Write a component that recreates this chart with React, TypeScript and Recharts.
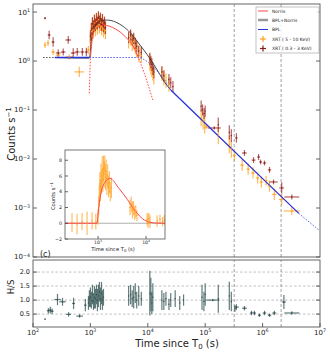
import React from "react";
import { ComposedChart, Line, Scatter, ErrorBar, XAxis, YAxis, ReferenceLine } from "recharts";

const FONT = "'DejaVu Sans', sans-serif";
const INK = "#222";

const timeDecades = [1e2, 1e3, 1e4, 1e5, 1e6, 1e7];
const countDecades = [1e-4, 1e-3, 1e-2, 1e-1, 1, 10];
const ratioTicks = [0.5, 1.0, 1.5, 2.0];
const insetCountTicks = [-2, 0, 2, 4, 6, 8];
const insetDecades = [1e2, 1e3, 1e4];
const breakTimes = [3.2e5, 2.1e6];

// XRT 0.3 - 3 keV : [t, counts, x factor, y factor]
const softPts = [
  [162, 7.5, 1.03, 1.05], [191, 3.4, 1.06, 1.22], [224, 2.44, 1.06, 1.25], [275, 1.46, 1.1, 1.18],
  [336, 1.53, 1.1, 1.18], [411, 2.69, 1.12, 1.2], [502, 1.46, 1.1, 1.25], [590, 1.53, 1.1, 1.2],
  [724, 1.53, 1.08, 1.2], [851, 1.53, 1.06, 1.22],
  [1000, 3.2, 1, 1.35], [1040, 4.5, 1, 1.35], [1085, 5.8, 1, 1.35], [1130, 5.0, 1, 1.35],
  [1175, 6.5, 1, 1.35], [1225, 5.5, 1, 1.35], [1274, 7.0, 1, 1.35], [1325, 6.0, 1, 1.35],
  [1380, 7.6, 1, 1.35], [1435, 6.3, 1, 1.35], [1496, 7.2, 1, 1.35], [1560, 5.6, 1, 1.35],
  [1622, 6.8, 1, 1.35], [1690, 5.2, 1, 1.35], [1760, 6.0, 1, 1.35], [1830, 4.8, 1, 1.35],
  [4640, 3.0, 1, 1.3], [5020, 3.4, 1, 1.3], [5350, 2.7, 1, 1.3], [5680, 2.9, 1, 1.3],
  [6050, 2.3, 1, 1.3], [6410, 2.0, 1, 1.3], [6950, 1.6, 1, 1.3], [7700, 1.5, 1, 1.3],
  [10840, 1.1, 1, 1.35], [11300, 0.95, 1, 1.35], [11750, 0.85, 1, 1.35], [12240, 0.7, 1, 1.35], [12740, 0.6, 1, 1.35],
  [17600, 0.6, 1, 1.3], [19050, 0.5, 1, 1.3], [23350, 0.42, 1, 1.3], [25100, 0.36, 1, 1.3], [27400, 0.3, 1, 1.3],
  [85000, 0.12, 1, 1.3], [90000, 0.1, 1, 1.3], [95700, 0.085, 1, 1.3], [100000, 0.095, 1, 1.3],
  [144000, 0.043, 1.3, 1.08], [169000, 0.05, 1, 1.4],
  [263000, 0.035, 1, 1.4], [285000, 0.03, 1, 1.35], [350000, 0.027, 1.05, 1.25],
  [483000, 0.0133, 1.1, 1.15], [695000, 0.0095, 1.08, 1.15], [851000, 0.011, 1.06, 1.15],
  [922000, 0.0087, 1.06, 1.12], [1.08e6, 0.0083, 1.07, 1.12], [1.32e6, 0.006, 1.07, 1.15],
  [1.55e6, 0.0034, 1.18, 1.12], [2.15e6, 0.00257, 1.1, 1.3], [3.23e6, 0.00168, 1.35, 1.12],
];

// XRT 5 - 10 keV
const hardPts = [
  [162, 2.12, 1.05, 1.15], [183, 2.33, 1.05, 1.15], [224, 1.53, 1.08, 1.15], [275, 1.32, 1.1, 1.15],
  [428, 1.21, 1.15, 1.12], [641, 0.6, 1.22, 1.27], [922, 1.68, 1.06, 1.2],
  [1000, 2.5, 1, 1.5], [1040, 4.0, 1, 1.5], [1085, 5.2, 1, 1.5], [1130, 4.3, 1, 1.5],
  [1175, 6.0, 1, 1.5], [1225, 4.8, 1, 1.5], [1274, 6.5, 1, 1.5], [1325, 5.2, 1, 1.5],
  [1380, 7.0, 1, 1.5], [1435, 5.5, 1, 1.5], [1496, 6.2, 1, 1.5], [1560, 5.0, 1, 1.5],
  [1622, 6.0, 1, 1.5], [1690, 4.5, 1, 1.5], [1760, 5.2, 1, 1.5], [1830, 4.2, 1, 1.5],
  [4640, 2.6, 1, 1.45], [5020, 3.0, 1, 1.45], [5350, 2.3, 1, 1.45], [5680, 2.5, 1, 1.45],
  [6050, 2.0, 1, 1.45], [6410, 1.7, 1, 1.45], [6950, 1.4, 1, 1.45], [7700, 1.3, 1, 1.45],
  [10840, 0.95, 1, 1.5], [11300, 0.8, 1, 1.5], [11750, 0.7, 1, 1.5], [12240, 0.6, 1, 1.5], [12740, 0.5, 1, 1.5],
  [17600, 0.55, 1, 1.4], [19050, 0.45, 1, 1.4], [20700, 0.4, 1, 1.4], [23350, 0.33, 1, 1.4],
  [85000, 0.07, 1, 1.5], [92000, 0.06, 1, 1.5], [98000, 0.05, 1, 1.5],
  [104000, 0.045, 1.08, 1.1], [169000, 0.03, 1, 1.5],
  [263000, 0.02, 1, 1.5], [285000, 0.016, 1, 1.5],
  [322000, 0.0118, 1.06, 1.3], [440000, 0.0075, 1.08, 1.3], [560000, 0.0062, 1.07, 1.3],
  [680000, 0.0052, 1.07, 1.3], [820000, 0.0041, 1.07, 1.3], [950000, 0.0034, 1.07, 1.3],
  [1.15e6, 0.0036, 1.06, 1.25], [1.32e6, 0.0028, 1.08, 1.3], [1.6e6, 0.0019, 1.1, 1.3],
  [2.15e6, 0.0015, 1.12, 1.3], [3.23e6, 0.00087, 1.38, 1.2],
];

// hardness ratio: [t, H/S, x factor, abs err]
const ratioPts = [
  [162, 0.32, 1, 0.02], [185, 0.62, 1.06, 0.1], [200, 0.64, 1.06, 0.12], [215, 0.6, 1.06, 0.1],
  [267, 1.02, 1.14, 0.2], [327, 0.94, 1.14, 0.14], [417, 0.49, 1.1, 0.08], [509, 0.88, 1.06, 0.2],
  [648, 0.43, 1.14, 0.06], [817, 0.82, 1.05, 0.22],
  [925, 0.9, 1, 0.25], [960, 1.05, 1, 0.3], [1000, 1.1, 1, 0.35], [1040, 1.0, 1, 0.3],
  [1085, 1.2, 1, 0.35], [1130, 0.95, 1, 0.3], [1175, 1.1, 1, 0.4], [1225, 1.05, 1, 0.35],
  [1274, 1.2, 1, 0.35], [1325, 1.0, 1, 0.4], [1380, 1.15, 1, 0.4], [1435, 1.3, 1, 0.35],
  [1496, 1.05, 1, 0.4], [1560, 1.25, 1, 0.4], [1622, 1.0, 1, 0.35], [1690, 1.1, 1, 0.3],
  [4640, 1.15, 1, 0.35], [5020, 1.2, 1, 0.35], [5350, 1.05, 1, 0.3], [5680, 1.1, 1, 0.4],
  [6050, 1.25, 1, 0.35], [6410, 1.0, 1, 0.3], [6950, 1.15, 1, 0.35], [7700, 1.05, 1, 0.25],
  [10840, 1.25, 1, 0.8], [11300, 1.2, 1, 0.6], [11750, 0.9, 1, 0.4], [12240, 1.1, 1, 0.5],
  [17600, 1.0, 1, 0.35], [19050, 0.95, 1, 0.3], [20700, 1.05, 1, 0.25], [23350, 0.85, 1, 0.2],
  [25100, 1.0, 1, 0.25], [30000, 1.05, 1, 0.3], [36000, 0.9, 1, 0.25], [42000, 1.0, 1, 0.2],
  [88000, 1.1, 1, 0.45], [95000, 0.95, 1, 0.35], [100000, 1.2, 1, 0.4],
  [135000, 1.0, 1.3, 0.04], [169000, 1.05, 1, 0.5],
  [263000, 1.15, 1, 0.5], [285000, 0.95, 1, 0.35], [330000, 0.7, 1, 0.12], [350000, 0.75, 1.1, 0.1],
  [483000, 0.71, 1.1, 0.08], [640000, 0.54, 1.06, 0.08], [720000, 0.54, 1.06, 0.08],
  [880000, 0.46, 1.06, 0.06], [1.08e6, 0.54, 1.07, 0.08], [1.32e6, 0.46, 1.07, 0.06],
  [1.6e6, 0.54, 1.08, 0.08], [2.35e6, 0.93, 1.08, 0.25], [3.23e6, 0.54, 1.35, 0.06],
];

// inset, linear counts (5 - 10 keV): [t, counts, abs err]
const insetPts = [
  [287, 0.1, 1.2], [365, -0.1, 1.3], [464, 0.2, 1.1], [590, 0.0, 1.5], [750, 0.3, 1.1], [900, 0.2, 1.0],
  [1000, 0.8, 1.0], [1030, 2.2, 1.2], [1060, 3.5, 1.4], [1090, 5.0, 1.5], [1120, 4.2, 1.4],
  [1150, 6.0, 1.6], [1185, 5.2, 1.5], [1220, 6.8, 1.7], [1260, 5.5, 1.5], [1300, 7.0, 1.6],
  [1340, 6.2, 1.7], [1380, 7.5, 1.1], [1430, 5.8, 1.6], [1480, 6.6, 1.5], [1530, 5.0, 1.4],
  [1590, 6.0, 1.5], [1650, 4.6, 1.3], [1720, 5.2, 1.4], [1800, 4.0, 1.2], [1900, 4.5, 1.3],
  [4640, 2.0, 1.0], [4900, 2.4, 1.0], [5200, 1.7, 1.1], [5500, 1.9, 0.9], [5800, 1.3, 0.9],
  [6100, 1.5, 0.8], [6450, 1.0, 0.7],
  [10500, 0.5, 0.8], [11000, 0.3, 0.9], [11500, 0.6, 0.7], [12100, 0.2, 0.8],
  [17000, 0.3, 0.7], [19500, 0.5, 0.6], [22000, 0.2, 0.6], [24000, 0.4, 0.6],
];

// model curves: [t, counts]
const norrisRise = [[955, 0.22], [1000, 1.15]];
const norrisPeak = [
  [1000, 1.15], [1085, 2.95], [1225, 4.5], [1430, 5.2], [1690, 5.4], [2750, 4.5],
  [4100, 3.1], [5680, 1.93], [6680, 1.26],
];
const norrisTail = [[6680, 1.26], [8510, 0.6], [10400, 0.295], [12240, 0.16]];
const sumEarly = [[150, 1.18], [240, 1.18]];
const sumMain = [
  [240, 1.18], [959, 1.15], [1042, 2.69], [1175, 4.71], [1496, 6.55], [1905, 6.87], [2754, 6.25],
  [3640, 5.18], [5020, 3.73], [6680, 2.44], [8510, 1.68], [11300, 1.05], [14960, 0.625],
  [19050, 0.39], [25100, 0.256],
];
const bplFlat = [[240, 1.18], [960, 1.18]];
const bplBend = [[960, 1.18], [6680, 1.18], [10000, 0.955], [14960, 0.597], [20700, 0.372], [25100, 0.256]];
const bplDecay = [[25100, 0.256], [1e5, 0.0537], [1e6, 0.00398], [4.27e6, 0.000776]];
const bplTail = [[4.27e6, 0.000776], [9.55e6, 0.000355]];
const norrisLinear = [
  [205, 0], [955, 0], [1000, 1.2], [1085, 3.0], [1225, 4.5], [1430, 5.3], [1750, 5.7], [2750, 4.4],
  [4100, 3.0], [5680, 1.7], [6680, 1.2], [8510, 0.55], [10400, 0.25], [12240, 0.12], [16000, 0.03], [24800, 0],
];

const toLine = (a: number[][]) => a.map(([t, c]) => ({ t, c }));
const toLogPts = (a: number[][]) =>
  a.map(([t, c, kx, ky]) => ({ t, c, ex: [t - t / kx, t * kx - t], ey: [c - c / ky, c * ky - c] }));
const toLinPts = (a: number[][]) =>
  a.map(([t, c, kx, e]) => ({ t, c, ex: [t - t / kx, t * kx - t], ey: [e, e] }));

const soft = toLogPts(softPts);
const hard = toLogPts(hardPts);
const ratio = toLinPts(ratioPts);
const inset = insetPts.map(([t, c, e]) => ({ t, c, ey: [e, e] }));

function minorsOf(decades: number[], lo: number, hi: number) {
  const out: number[] = [];
  decades.forEach((d) => {
    for (let m = 2; m < 10; m++) {
      const v = d * m;
      if (v >= lo && v <= hi) out.push(v);
    }
  });
  return out;
}

const expOf = (v: number) => Math.round(Math.log10(v));

function Pow({ x, y, e, fs, anchor }: any) {
  const s = e < 0 ? "\u2212" + -e : String(e);
  return (
    <text x={x} y={y} fontSize={fs} fontFamily={FONT} fill={INK} textAnchor={anchor}>
      10<tspan dy={-fs * 0.42} fontSize={fs * 0.68}>{s}</tspan>
    </text>
  );
}

// x ticks: inward marks at bottom and top edge, label for majors
function TimeTick(props: any) {
  const { x, y, payload, top, labels, fs, len = 4, dy = 1.5 } = props;
  return (
    <g>
      <line x1={x} x2={x} y1={y} y2={y - len} stroke={INK} strokeWidth={0.7} />
      <line x1={x} x2={x} y1={top} y2={top + len} stroke={INK} strokeWidth={0.7} />
      {labels ? <Pow x={x} y={y + fs + dy} e={expOf(payload.value)} fs={fs} anchor="middle" /> : null}
    </g>
  );
}

// y ticks: inward marks at left and right edge
function CountTick(props: any) {
  const { x, y, payload, right, fs, labels, len = 4 } = props;
  return (
    <g>
      <line x1={x} x2={x + len} y1={y} y2={y} stroke={INK} strokeWidth={0.7} />
      <line x1={right} x2={right - len} y1={y} y2={y} stroke={INK} strokeWidth={0.7} />
      {labels ? <Pow x={x - 3} y={y + fs * 0.35} e={expOf(payload.value)} fs={fs} anchor="end" /> : null}
    </g>
  );
}

function LinTick(props: any) {
  const { x, y, payload, right, fs, fixed, size = 4 } = props;
  const v = payload.value;
  const txt = fixed ? v.toFixed(1) : v < 0 ? "\u2212" + -v : String(v);
  return (
    <g>
      <line x1={x} x2={x + size} y1={y} y2={y} stroke={INK} strokeWidth={0.7} />
      <line x1={right} x2={right - size} y1={y} y2={y} stroke={INK} strokeWidth={0.7} />
      <text x={x - 3} y={y + fs * 0.35} fontSize={fs} fontFamily={FONT} fill={INK} textAnchor="end">
        {txt}
      </text>
    </g>
  );
}

const dot = (color: string) => (p: any) => <circle cx={p.cx} cy={p.cy} r={0.7} fill={color} />;

const SOFT = "#8b1a1a";
const HARD = "#ffa01e";
const RATIO = "#2f4f4f";
const RED = "#ff4646";
const BLUE = "#2a35d8";

const axisBase = { type: "number" as const, allowDataOverflow: true, interval: 0, tickSize: 0, tickMargin: 0, axisLine: false, tickLine: false };

export default function App() {
  const timeMinors = minorsOf(timeDecades, 100, 1e7);
  const countMinors = minorsOf(countDecades, 1e-4, 14.6);
  const insetTimeMajors = [1e3, 1e4];
  const insetTimeMinors = minorsOf(insetDecades, 205, 24800);

  return (
    <div style={{ position: "absolute", left: 0, top: 0, width: 330, height: 352, background: "#fff" }}>
      {/* main light curve */}
      <div style={{ position: "absolute", left: 0, top: 0 }}>
        <ComposedChart width={330} height={262} margin={{ top: 4, right: 10, bottom: 5, left: 0 }}>
          <XAxis {...axisBase} dataKey="t" scale="log" domain={[100, 1e7]} ticks={timeDecades} height={0}
            tick={<TimeTick top={4} labels={false} fs={7} />} />
          <XAxis {...axisBase} xAxisId="minor" dataKey="t" scale="log" domain={[100, 1e7]} ticks={timeMinors} height={0}
            tick={<TimeTick top={4} labels={false} fs={7} len={2} />} />
          <YAxis {...axisBase} dataKey="c" scale="log" domain={[1e-4, 14.6]} ticks={countDecades} width={33}
            tick={<CountTick right={320} fs={7} labels />} />
          <YAxis {...axisBase} yAxisId="minor" dataKey="c" scale="log" domain={[1e-4, 14.6]} ticks={countMinors} width={0}
            tick={<CountTick right={320} fs={7} labels={false} len={2} />} />
          {breakTimes.map((b) => (
            <ReferenceLine key={b} x={b} stroke="#777" strokeDasharray="3 2" strokeWidth={0.7} />
          ))}
          <Scatter data={hard} fill={HARD} shape={dot(HARD)} isAnimationActive={false}>
            <ErrorBar dataKey="ey" direction="y" width={0} stroke="rgba(255,160,30,0.75)" strokeWidth={1.2} isAnimationActive={false} />
            <ErrorBar dataKey="ex" direction="x" width={0} stroke="rgba(255,160,30,0.75)" strokeWidth={1.2} isAnimationActive={false} />
          </Scatter>
          <Scatter data={soft} fill={SOFT} shape={dot(SOFT)} isAnimationActive={false}>
            <ErrorBar dataKey="ey" direction="y" width={0} stroke="rgba(150,30,25,0.7)" strokeWidth={1.2} isAnimationActive={false} />
            <ErrorBar dataKey="ex" direction="x" width={0} stroke="rgba(150,30,25,0.7)" strokeWidth={1.2} isAnimationActive={false} />
          </Scatter>
          <Line data={toLine(sumEarly)} dataKey="c" type="linear" stroke="#555" strokeWidth={1} strokeDasharray="1.5 1.5" dot={false} isAnimationActive={false} />
          <Line data={toLine(sumMain)} dataKey="c" type="monotone" stroke="#333" strokeWidth={0.9} dot={false} isAnimationActive={false} />
          <Line data={toLine(norrisRise)} dataKey="c" type="linear" stroke={RED} strokeWidth={1} strokeDasharray="1.5 1.5" dot={false} isAnimationActive={false} />
          <Line data={toLine(norrisPeak)} dataKey="c" type="monotone" stroke={RED} strokeWidth={1} dot={false} isAnimationActive={false} />
          <Line data={toLine(norrisTail)} dataKey="c" type="monotone" stroke={RED} strokeWidth={1} strokeDasharray="1.5 1.5" dot={false} isAnimationActive={false} />
          <Line data={toLine(bplFlat)} dataKey="c" type="linear" stroke={BLUE} strokeWidth={1.4} dot={false} isAnimationActive={false} />
          <Line data={toLine(bplBend)} dataKey="c" type="monotone" stroke="#5565ee" strokeWidth={1} strokeDasharray="1.5 1.5" dot={false} isAnimationActive={false} />
          <Line data={toLine(bplDecay)} dataKey="c" type="linear" stroke={BLUE} strokeWidth={1.3} dot={false} isAnimationActive={false} />
          <Line data={toLine(bplTail)} dataKey="c" type="linear" stroke="#5565ee" strokeWidth={1} strokeDasharray="1.5 1.5" dot={false} isAnimationActive={false} />
        </ComposedChart>
      </div>

      {/* inset: linear 5-10 keV counts */}
      <div style={{ position: "absolute", left: 45, top: 146 }}>
        <ComposedChart width={125} height={104} margin={{ top: 4, right: 5, bottom: 0, left: 0 }}>
          <XAxis {...axisBase} dataKey="t" scale="log" domain={[205, 24800]} ticks={insetTimeMajors} height={11}
            tick={<TimeTick top={150} labels fs={4.6} len={3} dy={0.2} />} />
          <XAxis {...axisBase} xAxisId="minor" dataKey="t" scale="log" domain={[205, 24800]} ticks={insetTimeMinors} height={0}
            tick={<TimeTick top={150} labels={false} fs={4.6} len={1.5} />} />
          <YAxis {...axisBase} dataKey="c" domain={[-2, 9.3]} ticks={insetCountTicks} width={20}
            tick={<LinTick right={165} fs={4.8} size={3} />} />
          <ReferenceLine y={0} stroke="#999" strokeWidth={0.8} />
          <Scatter data={inset} fill={HARD} shape={dot(HARD)} isAnimationActive={false}>
            <ErrorBar dataKey="ey" direction="y" width={0} stroke="rgba(255,160,30,0.75)" strokeWidth={1.1} isAnimationActive={false} />
          </Scatter>
          <Line data={toLine(norrisLinear)} dataKey="c" type="monotone" stroke={RED} strokeWidth={1} dot={false} isAnimationActive={false} />
        </ComposedChart>
      </div>

      {/* hardness ratio panel */}
      <div style={{ position: "absolute", left: 0, top: 255 }}>
        <ComposedChart width={330} height={97} margin={{ top: 5, right: 10, bottom: 0, left: 0 }}>
          <XAxis {...axisBase} dataKey="t" scale="log" domain={[100, 1e7]} ticks={timeDecades} height={25}
            tick={<TimeTick top={260} labels fs={7} dy={1} />} />
          <XAxis {...axisBase} xAxisId="minor" dataKey="t" scale="log" domain={[100, 1e7]} ticks={timeMinors} height={0}
            tick={<TimeTick top={260} labels={false} fs={7} len={2} />} />
          <YAxis {...axisBase} dataKey="c" domain={[0.04, 2.43]} ticks={ratioTicks} width={33}
            tick={<LinTick right={320} fs={6.5} fixed />} />
          {ratioTicks.map((r) => (
            <ReferenceLine key={r} y={r} stroke="#999" strokeDasharray="2.5 2" strokeWidth={0.6} />
          ))}
          {breakTimes.map((b) => (
            <ReferenceLine key={b} x={b} stroke="#777" strokeDasharray="3 2" strokeWidth={0.7} />
          ))}
          <Scatter data={ratio} fill={RATIO} shape={dot(RATIO)} isAnimationActive={false}>
            <ErrorBar dataKey="ey" direction="y" width={0} stroke="rgba(47,79,79,0.75)" strokeWidth={1.2} isAnimationActive={false} />
            <ErrorBar dataKey="ex" direction="x" width={0} stroke="rgba(47,79,79,0.75)" strokeWidth={1.2} isAnimationActive={false} />
          </Scatter>
        </ComposedChart>
      </div>

      {/* frames, labels, legend */}
      <svg width={330} height={352} style={{ position: "absolute", left: 0, top: 0, pointerEvents: "none" }}>
        <rect x={33} y={4} width={287} height={253} fill="none" stroke="#555" strokeWidth={0.9} />
        <rect x={33} y={260} width={287} height={67} fill="none" stroke="#555" strokeWidth={0.9} />
        <rect x={65} y={150} width={100} height={89} fill="none" stroke="#555" strokeWidth={0.8} />

        <text x={40} y={257} fontSize={8} fontFamily={FONT} fill={INK}>(c)</text>
        <text transform="translate(14.5,134) rotate(-90)" textAnchor="middle" fontSize={10} fontFamily={FONT} fill={INK}>
          Counts s<tspan dy={-4} fontSize={7}>{"\u22121"}</tspan>
        </text>
        <text transform="translate(13.5,287) rotate(-90)" textAnchor="middle" fontSize={8.5} fontFamily={FONT} fill={INK}>
          H/S
        </text>
        <text x={177} y={347} textAnchor="middle" fontSize={10} fontFamily={FONT} fill={INK}>
          Time since T<tspan dy={2} fontSize={7}>0</tspan><tspan dy={-2}> (s)</tspan>
        </text>
        <text transform="translate(55,196) rotate(-90)" textAnchor="middle" fontSize={5.2} fontFamily={FONT} fill={INK}>
          Counts s<tspan dy={-2} fontSize={3.8}>{"\u22121"}</tspan>
        </text>
        <text x={113} y={251} textAnchor="middle" fontSize={5.2} fontFamily={FONT} fill={INK}>
          Time since T<tspan dy={1} fontSize={3.8}>0</tspan><tspan dy={-1}> (s)</tspan>
        </text>

        <rect x={256} y={7} width={63} height={46} fill="#fff" fillOpacity={0.85} stroke="#999" strokeWidth={0.6} />
        <line x1={258} x2={268} y1={11} y2={11} stroke={RED} strokeWidth={1} />
        <line x1={258} x2={268} y1={20} y2={20} stroke="#999" strokeWidth={2.5} />
        <line x1={258} x2={268} y1={29.5} y2={29.5} stroke={BLUE} strokeWidth={1} />
        <line x1={260} x2={266} y1={39} y2={39} stroke={HARD} strokeWidth={1.2} />
        <line x1={263} x2={263} y1={36} y2={42} stroke={HARD} strokeWidth={1.2} />
        <line x1={260} x2={266} y1={48.5} y2={48.5} stroke={SOFT} strokeWidth={1.2} />
        <line x1={263} x2={263} y1={45.5} y2={51.5} stroke={SOFT} strokeWidth={1.2} />
        {[
          ["Norris", 11],
          ["BPL+Norris", 20],
          ["BPL", 29.5],
          ["XRT ( 5 - 10 KeV)", 39],
          ["XRT ( 0.3 - 3 KeV)", 48.5],
        ].map(([label, y]) => (
          <text key={label as string} x={272} y={(y as number) + 1.6} fontSize={4.5} fontFamily={FONT} fill={INK}>
            {label}
          </text>
        ))}
      </svg>
    </div>
  );
}
